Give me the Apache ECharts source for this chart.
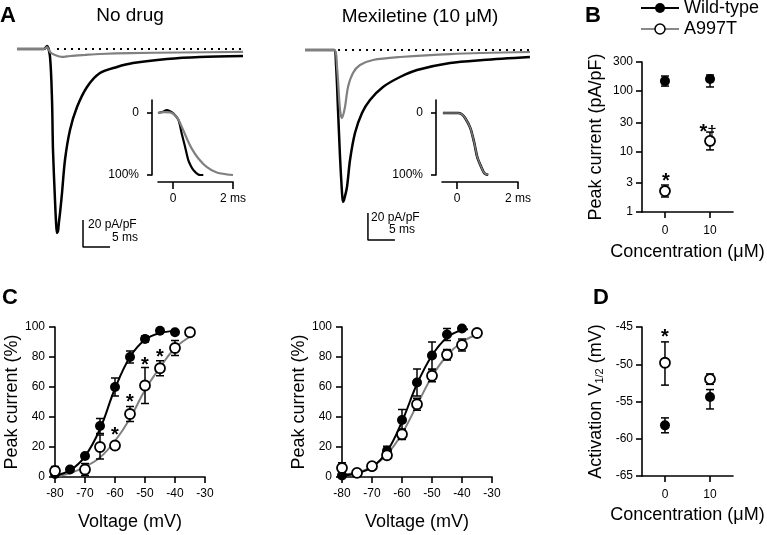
<!DOCTYPE html>
<html><head><meta charset="utf-8">
<script src="https://cdn.jsdelivr.net/npm/echarts@6/dist/echarts.min.js"></script>
<style>html,body{margin:0;padding:0;background:#fff}#c{width:767px;height:535px}</style>
</head><body><div id="c"></div>
<script>
// ---------------- DATA ----------------
// Panel A: current traces [time (ms), current (pA/pF)]
const traceNoDrugWT = [[-5.56,0],[-0.56,0],[0,2.2],[0.56,-5.9],[0.93,-37.8],[1.11,-74.8],[1.48,-111.9],[1.67,-128],[1.85,-136.3],[2.04,-134.8],[2.22,-128],[2.41,-121.5],[2.78,-106.7],[3.33,-82.2],[4.26,-60],[5.56,-43],[7.41,-28.1],[9.81,-17.8],[12.96,-13.3],[15.93,-10.4],[22.2,-7.4],[28.3,-5.9],[36.3,-5.2]];
const traceNoDrugA997T = [[-5.56,0],[-0.56,0],[0,1.5],[0.56,-2.2],[1.48,-4.4],[2.78,-5.9],[4.26,-5.2],[7.04,-4.4],[9.81,-3.7],[15.37,-3],[24.6,-2.6],[36.3,-2.2]];
const traceMexWT = [[-5.56,0],[-0.19,0],[0.19,-11.1],[0.56,-44.4],[0.93,-79.3],[1.3,-105.9],[1.48,-112.6],[1.67,-111.1],[2.22,-101.5],[2.78,-81.5],[3.7,-61.5],[5,-46.7],[6.48,-37],[8.89,-27.4],[12.04,-20],[15.19,-14.8],[21.3,-9.6],[27.4,-7.4],[36.1,-5.2]];
const traceMexA997T = [[-5.56,0],[-0.19,0],[0.37,-12.6],[0.93,-44.4],[1.3,-50.4],[1.85,-42.2],[2.41,-27.4],[3.33,-17],[4.63,-11.1],[7.04,-7.4],[12.04,-5.2],[21.3,-3],[36.1,-1.5]];
const zeroLineNoDrug = [[1.85,0],[36.3,0]];
const zeroLineMex = [[0.56,0],[36.1,0]];
const scaleBarCurrent = 20;   // pA/pF
const scaleBarTime = 5;       // ms
const scaleAnchorNoDrug = [6.67,-146.7];
const scaleAnchorMex = [6.1,-140.7];
// Panel A insets: normalised activation [time (ms), % of peak]
const insetNoDrugWT = [[-0.5,0],[-0.33,-2],[-0.21,-4.8],[-0.1,-3],[0.01,0.5],[0.18,11],[0.29,33],[0.4,54],[0.51,76],[0.6,86],[0.68,92],[0.84,99],[1.01,100]];
const insetNoDrugA997T = [[-0.5,0],[-0.3,-1.5],[-0.1,-1],[0.12,6],[0.29,22],[0.46,41],[0.62,57],[0.84,73],[1.12,87],[1.46,96],[2.0,100]];
const insetMexWT = [[-0.47,0],[0.03,0],[0.15,2],[0.26,8],[0.43,24],[0.56,48],[0.66,71],[0.79,87],[0.89,97],[1.02,100]];
const insetMexA997T = [[-0.47,0],[0.03,0],[0.15,2],[0.26,8],[0.43,24],[0.56,48],[0.66,71],[0.79,87],[0.89,97],[1.02,100]];
const insetTimeTicks = [0, 2];
const insetPctTicks = [0, 100];
// Panel B: peak current [conc (uM), mean, lower, upper]
const concTicks = [0, 10];
const peakTicks = [1, 3, 10, 30, 100, 300];
const peakWT = [[0,145,120,176],[10,157,116,183]];
const peakA997T = [[0,2.22,1.77,2.79],[10,14.9,10.6,20.9]];
const starsB = [[0.2,3.78,'{b|*}'],[9.56,24.4,'{b|*}†']];
// Panel C: activation curves [voltage (mV), mean %, sem]
const actNoDrugWT = [[-80,2,0.6],[-75,5,1],[-70,14,1.5],[-65,34,5],[-60,60,6],[-55,80,4],[-50,92,2],[-45,97.5,1],[-40,96.5,1]];
const actNoDrugA997T = [[-80,4,3],[-70,5,4],[-65,20,8],[-60,21,2.5],[-55,42,5],[-50,61,12],[-45,72.5,5],[-40,86,5],[-35,96.5,1.5]];
const fitNoDrugWT = [[-80,1],[-75,4.4],[-70,13.8],[-65,32],[-60,59],[-55,80],[-50,91.5],[-45,96],[-40,97.5],[-39,97.8]];
const fitNoDrugA997T = [[-80,0.4],[-75,2.5],[-70,6.7],[-65,13],[-60,24],[-55,39],[-50,58],[-45,73],[-40,86],[-35,93.5]];
const actMexWT = [[-80,1,0.5],[-70,6.7,1],[-65,17.5,3],[-60,38,7],[-55,63,9],[-50,81,9],[-45,95,4],[-40,99,1]];
const actMexA997T = [[-80,6,3.5],[-75,2.7,0.5],[-70,7.2,1],[-65,14.5,2],[-60,28.5,3.5],[-55,48.5,4],[-50,67.5,4],[-45,81.5,3.5],[-40,88,4],[-35,96,1]];
const fitMexWT = [[-80,1],[-75,2.5],[-70,6.5],[-65,17],[-60,37],[-55,62],[-50,81],[-45,93],[-40,98],[-38,98.5]];
const fitMexA997T = [[-80,1.5],[-75,3],[-70,7],[-65,15],[-60,29],[-55,48],[-50,67],[-45,81],[-40,90],[-35,95]];
const starsC = [[-60,30.7,'{b|*}'],[-55,52.5,'{b|*}'],[-50,77.3,'{b|*}'],[-45,82.9,'{b|*}']];
// Panel D: V1/2 [conc, mean, lower, upper]
const vhalfWT = [[0,-58.2,-59.2,-57.2],[10,-54.4,-56.0,-53.4]];
const vhalfA997T = [[0,-49.8,-52.8,-47.0],[10,-52.0,-52.7,-51.3]];
const starsD = [[0,-45.8,'{b|*}']];

// ---------------- CHART ----------------
const F = "'Liberation Sans', Arial, Helvetica, sans-serif";
function merge(a,b){for(const k in b){const v=b[k];if(v&&typeof v==='object'&&!Array.isArray(v)&&a[k]&&typeof a[k]==='object'&&!Array.isArray(a[k]))merge(a[k],v);else a[k]=v;}return a;}
function axis(gi,o){
  return merge({gridIndex:gi,type:'value',
    axisLine:{show:true,onZero:false,lineStyle:{color:'#000',width:1.6}},
    axisTick:{show:true,length:6,lineStyle:{color:'#000',width:1.6}},
    axisLabel:{show:true,color:'#000',fontSize:12,fontFamily:F,margin:10},
    splitLine:{show:false},
    nameLocation:'middle',
    nameTextStyle:{fontSize:18,fontFamily:F,color:'#000'}},o);
}
function hidden(gi,min,max){return {gridIndex:gi,type:'value',min,max,show:false,splitLine:{show:false}};}
function errRender(params,api){
  const x=api.value(0),lo=api.value(1),hi=api.value(2);
  const a=api.coord([x,hi]),b=api.coord([x,lo]);const w=4;const st={stroke:'#000',lineWidth:1.5};
  return {type:'group',children:[
    {type:'line',shape:{x1:a[0],y1:a[1],x2:b[0],y2:b[1]},style:st},
    {type:'line',shape:{x1:a[0]-w,y1:a[1],x2:a[0]+w,y2:a[1]},style:st},
    {type:'line',shape:{x1:b[0]-w,y1:b[1],x2:b[0]+w,y2:b[1]},style:st}]};
}
function errSeries(i,data){return {type:'custom',xAxisIndex:i,yAxisIndex:i,data,encode:{x:0,y:[1,2]},renderItem:errRender,z:3,silent:true};}
function starSeries(i,arr,size){
  return {type:'custom',xAxisIndex:i,yAxisIndex:i,data:arr.map(d=>[d[0],d[1]]),encode:{x:0,y:1},z:6,silent:true,
    renderItem:(params,api)=>{const p=api.coord([api.value(0),api.value(1)]);
      return {type:'text',x:p[0],y:p[1]+size*0.22,style:{text:arr[params.dataIndex][2],fontSize:size-3,fontFamily:F,fill:'#000',align:'center',verticalAlign:'middle',
        rich:{b:{fontSize:size,fontWeight:'bold',fontFamily:F,fill:'#000'}}}};}};
}
const semErr = arr => arr.map(d=>[d[0],d[1]-d[2],d[1]+d[2]]);
const rangeErr = arr => arr.map(d=>[d[0],d[2],d[3]]);
const pts = arr => arr.map(d=>[d[0],d[1]]);
const filled = {symbol:'circle',symbolSize:10,itemStyle:{color:'#000',opacity:1}};
const open = {symbol:'circle',symbolSize:10,itemStyle:{color:'#fff',borderColor:'#000',borderWidth:1.8,opacity:1}};
function line(i,data,color,width,extra){return merge({type:'line',xAxisIndex:i,yAxisIndex:i,data,symbol:'none',lineStyle:{color,width},silent:true,z:2},extra||{});}
function scatter(i,data,sty){return merge({type:'scatter',xAxisIndex:i,yAxisIndex:i,data,z:4,silent:true},JSON.parse(JSON.stringify(sty)));}
function scaleBar(a){return [[a[0],a[1]+scaleBarCurrent],[a[0],a[1]],[a[0]+scaleBarTime,a[1]]];}

const insetX = {min:-0.5,max:2,offset:7,axisTick:{length:7,customValues:insetTimeTicks},axisLabel:{customValues:insetTimeTicks,formatter:v=>v===2?'2 ms':'0',margin:11}};
const insetY = {min:-21,max:100,inverse:true,offset:6,axisTick:{length:5,customValues:insetPctTicks},axisLabel:{customValues:insetPctTicks,formatter:v=>v===100?'100%':'0',margin:13}};

const grids = [
  {left:17,top:40,width:226,height:210},
  {left:158,top:100,width:75,height:75},
  {left:305,top:40,width:225,height:210},
  {left:442,top:100,width:76,height:75},
  {left:642,top:62,width:91,height:150},
  {left:55,top:327,width:150,height:150},
  {left:342,top:327,width:150,height:150},
  {left:642,top:327,width:91,height:149}
].map(g=>Object.assign(g,{containLabel:false,outerBoundsMode:'none'}));

const concX = (gi,gap)=>axis(gi,{min:-5.1,max:15.1,axisTick:{customValues:concTicks},axisLabel:{customValues:concTicks,margin:13},name:'Concentration (μM)',nameGap:gap});
const voltX = gi=>axis(gi,{min:-80,max:-30,interval:10,axisLabel:{margin:11},name:'Voltage (mV)',nameGap:36});
const pctY = (gi,gap)=>axis(gi,{min:0,max:100,interval:20,axisLabel:{margin:10},name:'Peak current (%)',nameGap:gap});

const option = {
  animation:false,backgroundColor:'#fff',textStyle:{fontFamily:F},
  grid:grids,
  xAxis:[hidden(0,-5.556,36.3),axis(1,insetX),hidden(2,-5.556,36.111),axis(3,insetX),concX(4,31),voltX(5),voltX(6),concX(7,30)],
  yAxis:[hidden(0,-148.89,6.667),axis(1,insetY),hidden(2,-148.15,7.407),axis(3,insetY),
    axis(4,{type:'log',logBase:10,min:1,max:300,axisTick:{customValues:peakTicks},axisLabel:{customValues:peakTicks,margin:9},name:'Peak current (pA/pF)',nameGap:37}),
    pctY(5,33),pctY(6,28),
    axis(7,{min:-65,max:-45,interval:5,axisLabel:{margin:9},name:'Activation V{s|1/2} (mV)',nameGap:37,nameTextStyle:{rich:{s:{fontSize:11,fontFamily:F,color:'#000',verticalAlign:'bottom'}}}})],
  legend:{left:640,top:-1,orient:'vertical',itemWidth:38,itemHeight:12.5,itemGap:3,padding:0,selectedMode:false,
    textStyle:{fontSize:18,fontFamily:F,color:'#000'},
    data:[{name:'Wild-type',lineStyle:{color:'#000',width:2,opacity:1},itemStyle:{color:'#000',borderWidth:0,opacity:1}},
          {name:'A997T',lineStyle:{color:'#888',width:2,opacity:1},itemStyle:{color:'#fff',borderColor:'#000',borderWidth:1.5,opacity:1}}]},
  graphic:{elements:[
    {type:'text',x:0,y:16,style:{text:'A',fontSize:22,fontWeight:'bold',fontFamily:F,fill:'#000',align:'left',verticalAlign:'middle',textAlign:'left',textVerticalAlign:'middle'}},
    {type:'text',x:130,y:16,style:{text:'No drug',fontSize:19,fontFamily:F,fill:'#000',align:'center',verticalAlign:'middle',textAlign:'center',textVerticalAlign:'middle'}},
    {type:'text',x:420,y:17,style:{text:'Mexiletine (10 μM)',fontSize:19,fontFamily:F,fill:'#000',align:'center',verticalAlign:'middle',textAlign:'center',textVerticalAlign:'middle'}},
    {type:'text',x:585,y:16,style:{text:'B',fontSize:22,fontWeight:'bold',fontFamily:F,fill:'#000',align:'left',verticalAlign:'middle',textAlign:'left',textVerticalAlign:'middle'}},
    {type:'text',x:2,y:298,style:{text:'C',fontSize:22,fontWeight:'bold',fontFamily:F,fill:'#000',align:'left',verticalAlign:'middle',textAlign:'left',textVerticalAlign:'middle'}},
    {type:'text',x:593,y:298,style:{text:'D',fontSize:22,fontWeight:'bold',fontFamily:F,fill:'#000',align:'left',verticalAlign:'middle',textAlign:'left',textVerticalAlign:'middle'}},
    {type:'text',x:88,y:225,style:{text:'20 pA/pF',fontSize:12,fontFamily:F,fill:'#000',align:'left',verticalAlign:'middle',textAlign:'left',textVerticalAlign:'middle'}},
    {type:'text',x:138,y:238,style:{text:'5 ms',fontSize:12,fontFamily:F,fill:'#000',align:'right',verticalAlign:'middle',textAlign:'right',textVerticalAlign:'middle'}},
    {type:'text',x:371,y:218,style:{text:'20 pA/pF',fontSize:12,fontFamily:F,fill:'#000',align:'left',verticalAlign:'middle',textAlign:'left',textVerticalAlign:'middle'}},
    {type:'text',x:415,y:230,style:{text:'5 ms',fontSize:12,fontFamily:F,fill:'#000',align:'right',verticalAlign:'middle',textAlign:'right',textVerticalAlign:'middle'}}
  ]},
  series:[
    // A no drug
    line(0,zeroLineNoDrug,'#000',2,{lineStyle:{type:[2,5]},z:1}),
    line(0,traceNoDrugWT,'#000',2.5,{smooth:0.3}),
    line(0,traceNoDrugA997T,'#808080',2.2,{smooth:0.3,z:3}),
    line(0,scaleBar(scaleAnchorNoDrug),'#000',1.5),
    line(1,insetNoDrugWT,'#000',2.2,{smooth:0.3}),
    line(1,insetNoDrugA997T,'#808080',2.2,{smooth:0.3,z:3}),
    // A mexiletine
    line(2,zeroLineMex,'#000',2,{lineStyle:{type:[2,5]},z:1}),
    line(2,traceMexWT,'#000',2.5,{smooth:0.3}),
    line(2,traceMexA997T,'#808080',2.2,{smooth:0.3,z:3}),
    line(2,scaleBar(scaleAnchorMex),'#000',1.5),
    line(3,insetMexWT,'#000',2.6,{smooth:0.3}),
    line(3,insetMexA997T,'#777',1.6,{smooth:0.3,z:3}),
    // B
    errSeries(4,rangeErr(peakWT)),
    errSeries(4,rangeErr(peakA997T)),
    merge({type:'line',name:'Wild-type',xAxisIndex:4,yAxisIndex:4,data:pts(peakWT),showSymbol:true,lineStyle:{color:'#000',width:2,opacity:0},z:4,silent:true},JSON.parse(JSON.stringify(filled))),
    merge({type:'line',name:'A997T',xAxisIndex:4,yAxisIndex:4,data:pts(peakA997T),showSymbol:true,lineStyle:{color:'#888',width:2,opacity:0},z:4,silent:true},JSON.parse(JSON.stringify(open))),
    starSeries(4,starsB,20),
    // C no drug
    line(5,fitNoDrugA997T,'#808080',2,{smooth:0.4}),
    line(5,fitNoDrugWT,'#000',2,{smooth:0.4}),
    errSeries(5,semErr(actNoDrugWT)),
    errSeries(5,semErr(actNoDrugA997T)),
    scatter(5,pts(actNoDrugWT),filled),
    scatter(5,pts(actNoDrugA997T),open),
    starSeries(5,starsC,20),
    // C mexiletine
    line(6,fitMexA997T,'#808080',2,{smooth:0.4}),
    line(6,fitMexWT,'#000',2,{smooth:0.4}),
    errSeries(6,semErr(actMexWT)),
    errSeries(6,semErr(actMexA997T)),
    scatter(6,pts(actMexWT),filled),
    scatter(6,pts(actMexA997T),open),
    // D
    errSeries(7,rangeErr(vhalfWT)),
    errSeries(7,rangeErr(vhalfA997T)),
    scatter(7,pts(vhalfWT),filled),
    scatter(7,pts(vhalfA997T),open),
    starSeries(7,starsD,20)
  ]
};
const chart = echarts.init(document.getElementById('c'),null,{renderer:'canvas'});
chart.setOption(option);
</script></body></html>
